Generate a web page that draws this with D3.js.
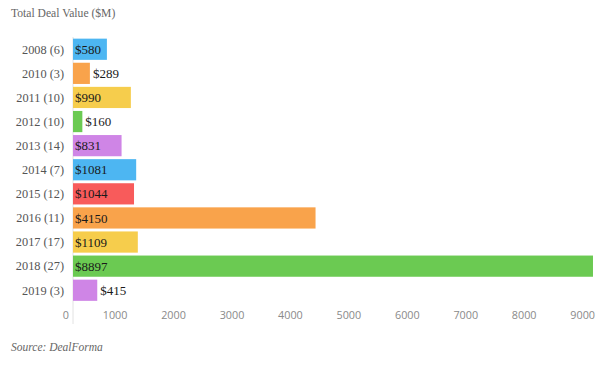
<!DOCTYPE html>
<html>
<head>
<meta charset="utf-8">
<script src="https://cdn.jsdelivr.net/npm/d3@7"></script>
<style>
  html, body { margin: 0; padding: 0; background: #fff; }
  svg { display: block; }
</style>
</head>
<body>
<svg id="chart" width="604" height="366"></svg>
<script>
const categories = ["2008 (6)", "2010 (3)", "2011 (10)", "2012 (10)", "2013 (14)", "2014 (7)", "2015 (12)", "2016 (11)", "2017 (17)", "2018 (27)", "2019 (3)"];
const values = [580, 289, 990, 160, 831, 1081, 1044, 4150, 1109, 8897, 415];
const barColors = ["#4db6f2", "#f9a34b", "#f6cd4c", "#6bca52", "#cf85e6", "#4db6f2", "#f85b5b", "#f9a34b", "#f6cd4c", "#6bca52", "#cf85e6"];
const tickValues = [0, 1000, 2000, 3000, 4000, 5000, 6000, 7000, 8000, 9000];
const title = "Total Deal Value ($M)";
const source = "Source: DealForma";

const svg = d3.select("#chart");
const serif = "'Liberation Serif', 'Times New Roman', serif";
const sans = "'Open Sans', 'Noto Sans', sans-serif";

const x = d3.scaleLinear().domain([0, 9000]).range([73, 599]);
const y = d3.scaleBand().domain(categories).range([37.2, 302.3]).paddingInner(0.12).paddingOuter(0.06);

// title
svg.append("text").attr("x", 11).attr("y", 16.5)
  .attr("font-family", serif).attr("font-size", 11.6).attr("fill", "#666")
  .text(title);

// zero line
svg.append("line").attr("x1", x(0)).attr("x2", x(0)).attr("y1", 37).attr("y2", 324)
  .attr("stroke", "#e2e2e2").attr("stroke-width", 1);

// bars
const data = categories.map((c, i) => ({ c, v: values[i], color: barColors[i] }));
svg.append("g").selectAll("rect").data(data).join("rect")
  .attr("x", x(0)).attr("y", d => y(d.c))
  .attr("width", d => x(d.v) - x(0)).attr("height", y.bandwidth())
  .attr("fill", d => d.color);

// category labels
svg.append("g").selectAll("text").data(data).join("text")
  .attr("x", 64).attr("y", d => y(d.c) + y.bandwidth() / 2)
  .attr("dy", "0.35em").attr("text-anchor", "end")
  .attr("font-family", serif).attr("font-size", 12.3).attr("fill", "#555")
  .text(d => d.c);

// value labels
const vl = svg.append("g").selectAll("text").data(data).join("text")
  .attr("y", d => y(d.c) + y.bandwidth() / 2)
  .attr("dy", "0.35em")
  .attr("font-family", serif).attr("font-size", 13).attr("fill", "#1a1a1a")
  .text(d => "$" + d.v);
vl.each(function(d) {
  const w = this.getComputedTextLength();
  const bw = x(d.v) - x(0);
  if (w + 4 <= bw) d3.select(this).attr("x", x(0) + 2);
  else d3.select(this).attr("x", x(d.v) + 3);
});

// x axis tick labels
svg.append("g").selectAll("text").data(tickValues).join("text")
  .attr("x", d => x(d) - 4).attr("y", 319)
  .attr("text-anchor", "end")
  .attr("font-family", sans).attr("font-size", 10.8).attr("fill", "#8a8a8a")
  .text(d => d);

// source
svg.append("text").attr("x", 11).attr("y", 351)
  .attr("font-family", serif).attr("font-style", "italic").attr("font-size", 11.5).attr("fill", "#666")
  .text(source);
</script>
</body>
</html>
